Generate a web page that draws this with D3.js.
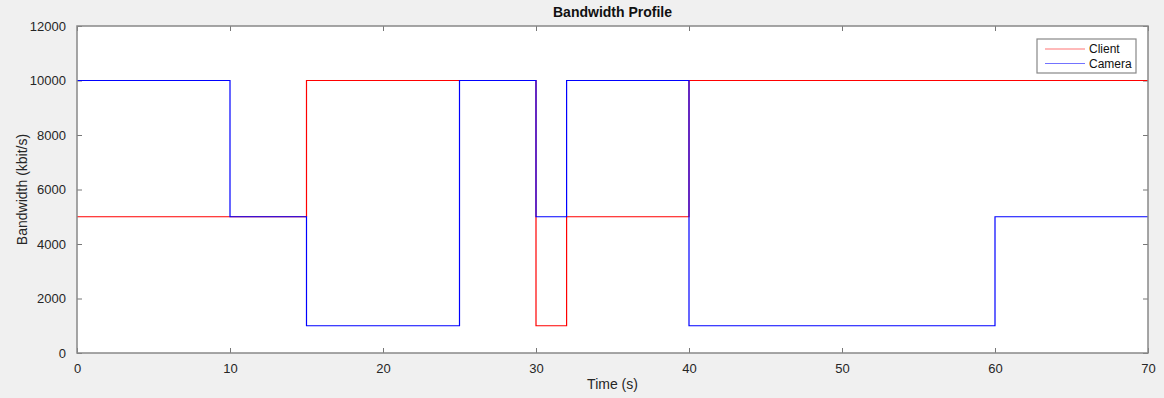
<!DOCTYPE html>
<html>
<head>
<meta charset="utf-8">
<script src="https://cdn.jsdelivr.net/npm/d3@7.9.0/dist/d3.min.js"></script>
<style>
  body { margin: 0; background: #f0f0f0; }
  svg { display: block; font-family: "Liberation Sans", Arial, sans-serif; }
  .tick text { fill: #262626; font-size: 13px; }
</style>
</head>
<body>
<svg id="chart" width="1164" height="398"></svg>
<script>
// step breakpoints (time in s) and the value held from each breakpoint on
const clientTimes = [0, 15, 30, 32, 40, 70];
const clientValues = [5000, 10000, 1000, 5000, 10000, 10000];
const cameraTimes = [0, 10, 15, 25, 30, 32, 40, 60, 70];
const cameraValues = [10000, 5000, 1000, 10000, 5000, 10000, 1000, 5000, 5000];
const xTicks = [0, 10, 20, 30, 40, 50, 60, 70];
const yTicks = [0, 2000, 4000, 6000, 8000, 10000, 12000];

const margin = { left: 77, top: 26, right: 1148, bottom: 353 };
const svg = d3.select("#chart");

const x = d3.scaleLinear().domain([0, 70]).range([margin.left, margin.right]);
const y = d3.scaleLinear().domain([0, 12000]).range([margin.bottom, margin.top]);

svg.append("rect")
  .attr("x", margin.left).attr("y", margin.top)
  .attr("width", margin.right - margin.left)
  .attr("height", margin.bottom - margin.top)
  .attr("fill", "#fff");

const tickLen = 5;
function styleAxis(g) {
  g.select(".domain").remove();
  g.selectAll(".tick line").attr("stroke", "#777");
  g.selectAll(".tick text").attr("font-family", "Liberation Sans, Arial, sans-serif");
}

// bottom / top
svg.append("g").attr("transform", `translate(0,${margin.bottom})`)
  .call(d3.axisBottom(x).tickValues(xTicks).tickSizeInner(-tickLen).tickPadding(11))
  .call(styleAxis);
svg.append("g").attr("transform", `translate(0,${margin.top})`)
  .call(d3.axisTop(x).tickValues(xTicks).tickSizeInner(-tickLen).tickFormat(""))
  .call(styleAxis);
// left / right
svg.append("g").attr("transform", `translate(${margin.left},0)`)
  .call(d3.axisLeft(y).tickValues(yTicks).tickSizeInner(-tickLen).tickPadding(11).tickFormat(d3.format("d")))
  .call(styleAxis);
svg.append("g").attr("transform", `translate(${margin.right},0)`)
  .call(d3.axisRight(y).tickValues(yTicks).tickSizeInner(-tickLen).tickFormat(""))
  .call(styleAxis);

const line = d3.line()
  .x((d) => x(d[0]))
  .y((d) => y(d[1]))
  .curve(d3.curveStepAfter);

const clientData = clientTimes.map((t, i) => [t, clientValues[i]]);
const cameraData = cameraTimes.map((t, i) => [t, cameraValues[i]]);

svg.append("path").datum(clientData)
  .attr("d", line).attr("fill", "none").attr("stroke", "#ff0000").attr("stroke-width", 1.2);
svg.append("path").datum(cameraData)
  .attr("d", line).attr("fill", "none").attr("stroke", "#0000ff").attr("stroke-width", 1.2);

// box
svg.append("rect")
  .attr("x", margin.left).attr("y", margin.top)
  .attr("width", margin.right - margin.left)
  .attr("height", margin.bottom - margin.top)
  .attr("fill", "none").attr("stroke", "#888").attr("stroke-width", 1.5);

// title and labels
svg.append("text")
  .attr("x", (margin.left + margin.right) / 2).attr("y", 17)
  .attr("text-anchor", "middle").attr("font-size", 14).attr("font-weight", "bold")
  .attr("fill", "#111").text("Bandwidth Profile");
svg.append("text")
  .attr("x", (margin.left + margin.right) / 2).attr("y", 389)
  .attr("text-anchor", "middle").attr("font-size", 14).attr("fill", "#262626")
  .text("Time (s)");
svg.append("text")
  .attr("transform", `translate(27,${(margin.top + margin.bottom) / 2}) rotate(-90)`)
  .attr("text-anchor", "middle").attr("font-size", 14).attr("fill", "#262626")
  .text("Bandwidth (kbit/s)");

// legend
const legendItems = [
  { label: "Client", color: "#ff0000" },
  { label: "Camera", color: "#0000ff" }
];
const legend = svg.append("g").attr("transform", "translate(1037,39)");
legend.append("rect")
  .attr("width", 99).attr("height", 34)
  .attr("fill", "#fff").attr("stroke", "#888").attr("stroke-width", 1.2);
const li = legend.selectAll("g.item").data(legendItems).join("g")
  .attr("transform", (d, i) => `translate(0,${10 + i * 14.5})`);
li.append("line")
  .attr("x1", 8).attr("x2", 48)
  .attr("stroke", (d) => d.color).attr("stroke-opacity", 0.55);
li.append("text")
  .attr("x", 52).attr("dy", "0.35em").attr("font-size", 12).attr("fill", "#111")
  .text((d) => d.label);
</script>
</body>
</html>
